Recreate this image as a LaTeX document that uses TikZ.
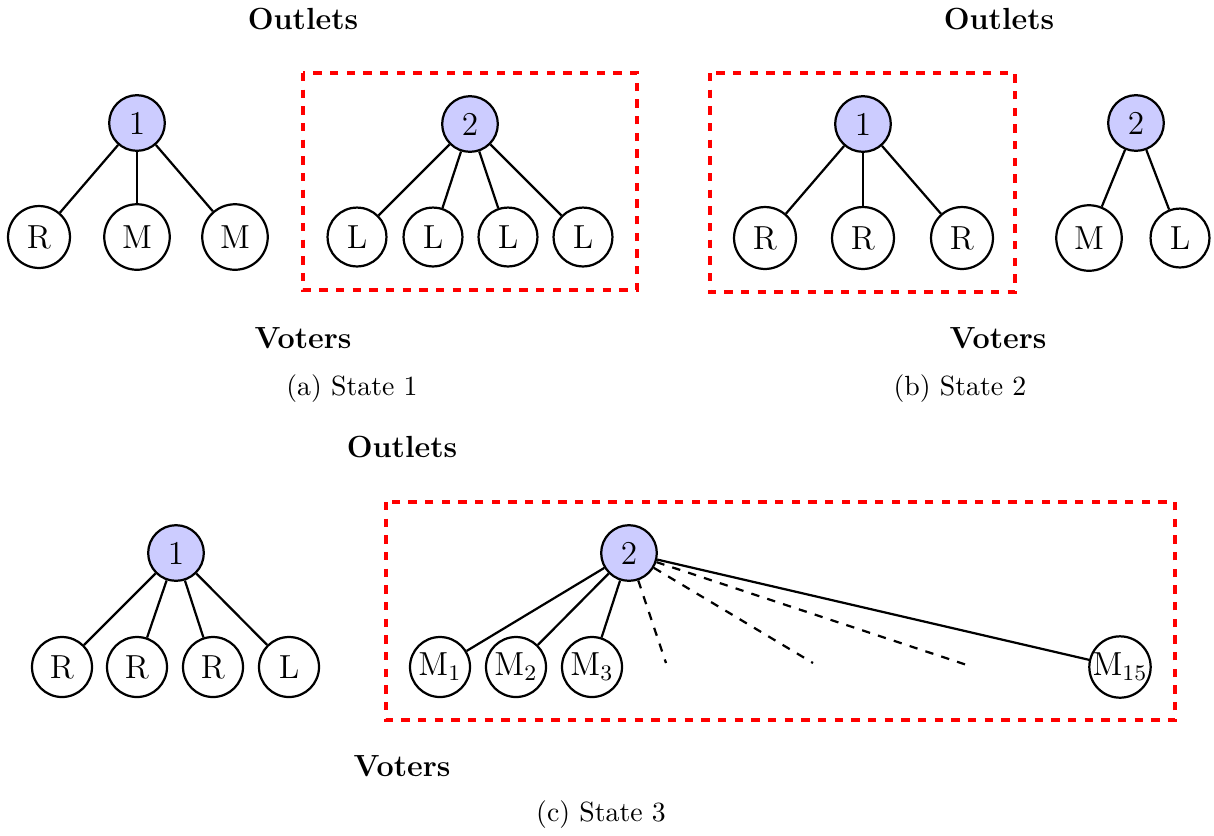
\documentclass[tikz,border=0pt]{standalone}
\begin{document}
\begin{tikzpicture}[x=0.36pt, y=-0.36pt,
            outlet/.style={draw, circle, thick, fill=blue!20, font=\large, inner sep=3.6pt},
            voter/.style={draw, circle, thick, font=\large, inner sep=3.6pt},
            smallvoter/.style={draw, circle, thick, font=\large, inner sep=0pt, minimum size=21.6pt},
            group/.style={draw=red, very thick, dashed},
            lbl/.style={font=\fontsize{11}{13}\selectfont\bfseries}]
            \useasboundingbox (0,0) rectangle (1214,835);

            % state 1
            \node[lbl] (outletsA) at (303,19) {Outlets};
            \node[outlet] (a1) at (137,123) {1};
            \node[voter] (a1r) at (39,237) {R};
            \node[voter] (a1m) at (137,237) {M};
            \node[voter] (a1mm) at (235,237) {M};
            \node[outlet] (a2) at (470,124) {2};
            \node[voter] (a2l) at (357,237) {L};
            \node[voter] (a2ll) at (433,237) {L};
            \node[voter] (a2lll) at (508,237) {L};
            \node[voter] (a2llll) at (583,237) {L};
            \draw[group] (303,73) rectangle (637,290);
            \node[lbl] (votersA) at (303,338) {Voters};
            \node (capA) at (352,389) {(a) State 1};

            \draw[thick] (a1) -- (a1r);
            \draw[thick] (a1) -- (a1m);
            \draw[thick] (a1) -- (a1mm);
            \draw[thick] (a2) -- (a2l);
            \draw[thick] (a2) -- (a2ll);
            \draw[thick] (a2) -- (a2lll);
            \draw[thick] (a2) -- (a2llll);

            % state 2
            \node[lbl] (outletsB) at (999,19) {Outlets};
            \node[outlet] (b1) at (863,124) {1};
            \node[voter] (b1r) at (765,238) {R};
            \node[voter] (b1rr) at (863,238) {R};
            \node[voter] (b1rrr) at (962,238) {R};
            \node[outlet] (b2) at (1136,123) {2};
            \node[voter] (b2m) at (1089,238) {M};
            \node[voter] (b2l) at (1180,238) {L};
            \draw[group] (710,73) rectangle (1015,292);
            \node[lbl] (votersB) at (998,338) {Voters};
            \node (capB) at (960,389) {(b) State 2};

            \draw[thick] (b1) -- (b1r);
            \draw[thick] (b1) -- (b1rr);
            \draw[thick] (b1) -- (b1rrr);
            \draw[thick] (b2) -- (b2m);
            \draw[thick] (b2) -- (b2l);

            % state 3
            \node[lbl] (outletsC) at (402,447) {Outlets};
            \node[outlet] (c1) at (176,553) {1};
            \node[smallvoter] (c1r) at (62,667) {R};
            \node[smallvoter] (c1rr) at (137,667) {R};
            \node[smallvoter] (c1rrr) at (213,667) {R};
            \node[smallvoter] (c1l) at (289,667) {L};
            \node[outlet] (c2) at (629,553) {2};
            \node[smallvoter] (m1) at (440,667) {M$_1$};
            \node[smallvoter] (m2) at (516,667) {M$_2$};
            \node[smallvoter] (m3) at (592,667) {M$_3$};
            \node[smallvoter] (m15) at (1120,667) {M$_{15}$};
            \coordinate (gap1) at (666,663);
            \coordinate (gap2) at (813,663);
            \coordinate (gap3) at (967,665);
            \draw[group] (386,502) rectangle (1175,720);
            \node[lbl] (votersC) at (402,766) {Voters};
            \node (capC) at (601,815) {(c) State 3};

            \draw[thick] (c1) -- (c1r);
            \draw[thick] (c1) -- (c1rr);
            \draw[thick] (c1) -- (c1rrr);
            \draw[thick] (c1) -- (c1l);
            \draw[thick] (c2) -- (m1);
            \draw[thick] (c2) -- (m2);
            \draw[thick] (c2) -- (m3);
            \draw[thick, dashed] (c2) -- (gap1);
            \draw[thick, dashed] (c2) -- (gap2);
            \draw[thick, dashed] (c2) -- (gap3);
            \draw[thick] (c2) -- (m15);
        \end{tikzpicture}
\end{document}
